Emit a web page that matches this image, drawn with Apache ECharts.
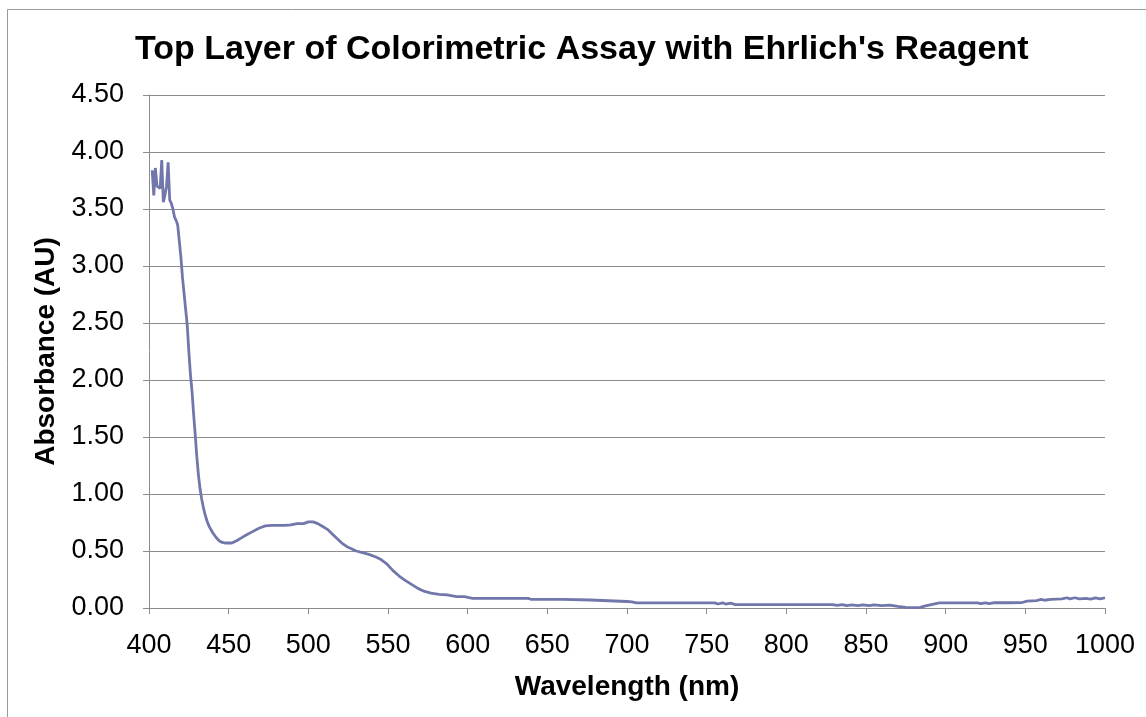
<!DOCTYPE html>
<html>
<head>
<meta charset="utf-8">
<script src="https://cdn.jsdelivr.net/npm/echarts@6/dist/echarts.min.js"></script>
<style>
	html, body { margin: 0; padding: 0; background: #fff; }
	#chart { width: 1146px; height: 717px; }
</style>
</head>
<body>
<div id="chart"></div>
<script>
// wavelength (nm) and absorbance (AU)
const wavelengths = [
	402, 403, 404, 405, 406, 407, 408, 409, 410, 411, 412, 413, 414, 415, 416, 417, 418, 419,
	420, 421, 422, 423, 424, 425, 426, 427, 428, 429, 430, 431, 432, 433, 434, 435, 436, 437, 438,
	440, 442, 444, 446, 448, 450, 452, 455, 458, 461, 465, 469, 473, 477, 481, 485, 489, 493, 497,
	500, 503, 506, 509, 512, 515, 518, 521, 524, 527, 530, 534, 538, 542, 545, 549, 553, 557, 561,
	565, 569, 573, 577, 582, 587, 593, 598, 603, 615, 625, 638, 640, 660, 677, 678, 700, 703, 704,
	706, 730, 755, 757, 760, 762, 765, 768, 790, 810, 829, 832, 835, 838, 841, 845, 848, 852, 855,
	860, 865, 870, 875, 880, 884, 888, 891, 896, 910, 920, 922, 925, 927, 930, 940, 948, 951, 957,
	960, 962, 966, 973, 976, 978, 981, 984, 988, 991, 994, 997, 1000
];
const absorbance = [
	3.84, 3.62, 3.86, 3.70, 3.71, 3.68, 3.93, 3.56, 3.62, 3.70, 3.91, 3.58, 3.55, 3.50, 3.43, 3.40, 3.36, 3.22,
	3.08, 2.90, 2.76, 2.62, 2.48, 2.25, 2.05, 1.90, 1.70, 1.52, 1.33, 1.17, 1.05, 0.96, 0.89, 0.83, 0.78, 0.74, 0.71,
	0.66, 0.62, 0.59, 0.575, 0.57, 0.57, 0.57, 0.59, 0.615, 0.64, 0.67, 0.70, 0.72, 0.725, 0.725, 0.725, 0.73, 0.74, 0.74,
	0.755, 0.755, 0.74, 0.715, 0.69, 0.65, 0.61, 0.57, 0.54, 0.52, 0.50, 0.485, 0.47, 0.45, 0.43, 0.39, 0.33, 0.28, 0.24,
	0.205, 0.17, 0.145, 0.13, 0.12, 0.115, 0.10, 0.10, 0.085, 0.085, 0.085, 0.085, 0.075, 0.075, 0.07, 0.057, 0.057, 0.053, 0.06,
	0.045, 0.045, 0.045, 0.035, 0.045, 0.035, 0.042, 0.03, 0.03, 0.03, 0.03, 0.022, 0.03, 0.02, 0.028, 0.02, 0.028, 0.02, 0.028,
	0.02, 0.025, 0.015, 0.006, 0.004, 0.005, 0.02, 0.03, 0.045, 0.045, 0.045, 0.038, 0.046, 0.038, 0.046, 0.046, 0.048, 0.06, 0.065,
	0.075, 0.068, 0.075, 0.08, 0.09, 0.08, 0.09, 0.08, 0.085, 0.078, 0.088, 0.08, 0.09
];

const chartDom = document.getElementById("chart");
const myChart = echarts.init(chartDom);
let option;

const gridColor = "#8c8c8c";
const font = "Liberation Sans, Arial, sans-serif";

option = {
	animation: false,
	backgroundColor: "#fff",
	title: {
		text: "Top Layer of Colorimetric Assay with Ehrlich's Reagent",
		left: 130,
		top: 28,
		textStyle: {
			fontFamily: font,
			fontSize: 34,
			fontWeight: "bold",
			color: "#000"
		}
	},
	graphic: [{
		type: "rect",
		shape: { x: 7.5, y: 9.5, width: 1200, height: 800 },
		style: { fill: "none", stroke: "#9a9a9a", lineWidth: 1 },
		silent: true
	}],
	grid: {
		left: 149,
		right: 41,
		top: 95,
		bottom: 109
	},
	xAxis: {
		type: "value",
		min: 400,
		max: 1000,
		interval: 50,
		name: "Wavelength (nm)",
		nameLocation: "middle",
		nameGap: 65,
		nameTextStyle: {
			fontFamily: font,
			fontSize: 28,
			fontWeight: "bold",
			color: "#000"
		},
		axisLine: { show: true, lineStyle: { color: gridColor, width: 1 } },
		axisTick: { show: true, length: 6, lineStyle: { color: gridColor } },
		axisLabel: {
			fontFamily: font,
			fontSize: 27,
			color: "#000",
			margin: 24,
			formatter: (v) => String(v)
		},
		splitLine: { show: false }
	},
	yAxis: {
		type: "value",
		min: 0,
		max: 4.5,
		interval: 0.5,
		name: "Absorbance (AU)",
		nameLocation: "middle",
		nameGap: 85,
		nameTextStyle: {
			fontFamily: font,
			fontSize: 28,
			fontWeight: "bold",
			color: "#000"
		},
		axisLine: { show: true, lineStyle: { color: gridColor, width: 1 } },
		axisTick: { show: true, length: 6, lineStyle: { color: gridColor } },
		axisLabel: {
			fontFamily: font,
			fontSize: 27,
			color: "#000",
			margin: 25,
			formatter: (v) => v.toFixed(2)
		},
		splitLine: { show: true, lineStyle: { color: gridColor, width: 1 } }
	},
	series: [{
		type: "line",
		data: wavelengths.map((w, i) => [w, absorbance[i]]),
		showSymbol: false,
		smooth: false,
		lineStyle: { color: "#7277ab", width: 2.8 },
		itemStyle: { color: "#7277ab" }
	}]
};

option && myChart.setOption(option);
</script>
</body>
</html>
